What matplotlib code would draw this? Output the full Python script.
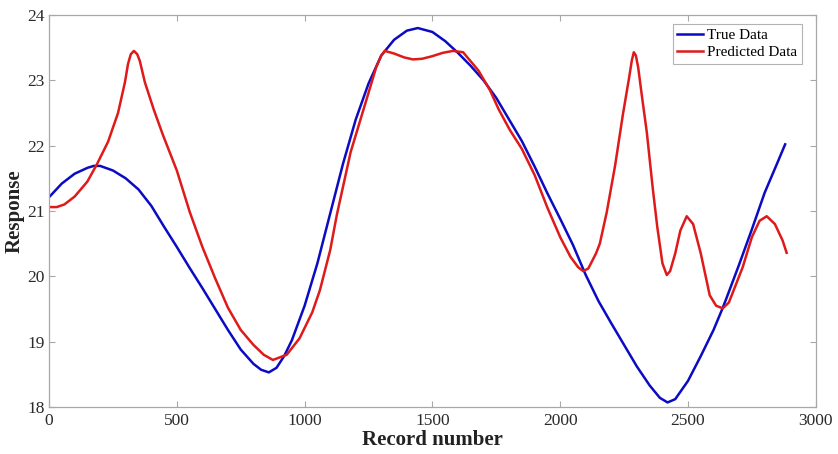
import matplotlib
matplotlib.use("Agg")
import matplotlib.pyplot as plt

# ---- data ----
true_x = [0, 50, 100, 150, 175, 200, 250, 300, 350, 400, 450, 500, 550, 600, 650,
          700, 750, 800, 830, 860, 890, 920, 950, 1000, 1050, 1100, 1150, 1200,
          1250, 1300, 1350, 1400, 1443, 1500, 1550, 1600, 1650, 1700, 1750, 1800,
          1850, 1900, 1950, 2000, 2050, 2100, 2150, 2200, 2250, 2300, 2350, 2390,
          2420, 2450, 2500, 2550, 2600, 2632, 2650, 2700, 2750, 2800, 2850, 2880]
true_y = [21.21, 21.42, 21.57, 21.66, 21.69, 21.69, 21.62, 21.50, 21.33, 21.08,
          20.76, 20.45, 20.13, 19.82, 19.50, 19.18, 18.88, 18.66, 18.57, 18.53,
          18.60, 18.78, 19.02, 19.55, 20.20, 20.96, 21.72, 22.40, 22.95, 23.38,
          23.62, 23.76, 23.80, 23.74, 23.60, 23.42, 23.22, 23.00, 22.73, 22.40,
          22.07, 21.68, 21.27, 20.88, 20.48, 20.02, 19.62, 19.28, 18.95, 18.62,
          18.33, 18.14, 18.07, 18.12, 18.40, 18.78, 19.18, 19.48, 19.66, 20.18,
          20.72, 21.28, 21.74, 22.02]

pred_x = [0, 30, 60, 100, 150, 188, 231, 270, 297, 309, 320, 332, 345, 355, 375,
          410, 446, 500, 551, 600, 650, 700, 750, 800, 840, 876, 930, 980, 1030,
          1060, 1100, 1126, 1180, 1244, 1280, 1300, 1314, 1350, 1390, 1424, 1460,
          1500, 1540, 1580, 1620, 1680, 1725, 1760, 1803, 1850, 1900, 1950, 2000,
          2040, 2070, 2090, 2110, 2140, 2155, 2182, 2215, 2245, 2270, 2280, 2288,
          2296, 2305, 2320, 2339, 2362, 2380, 2400, 2417, 2430, 2450, 2470, 2495,
          2520, 2550, 2585, 2610, 2636, 2660, 2690, 2714, 2750, 2780, 2808, 2840,
          2870, 2886]
pred_y = [21.06, 21.06, 21.10, 21.22, 21.45, 21.72, 22.06, 22.50, 22.97, 23.25,
          23.40, 23.45, 23.40, 23.30, 22.97, 22.55, 22.16, 21.62, 20.98, 20.45,
          19.97, 19.52, 19.18, 18.95, 18.80, 18.72, 18.80, 19.05, 19.45, 19.79,
          20.40, 20.94, 21.90, 22.73, 23.20, 23.38, 23.45, 23.41, 23.35, 23.32,
          23.33, 23.37, 23.42, 23.45, 23.43, 23.15, 22.85, 22.55, 22.24, 21.95,
          21.55, 21.05, 20.60, 20.30, 20.14, 20.08, 20.12, 20.35, 20.50, 20.98,
          21.70, 22.47, 23.05, 23.30, 23.43, 23.38, 23.20, 22.75, 22.20, 21.35,
          20.75, 20.20, 20.02, 20.08, 20.35, 20.70, 20.92, 20.80, 20.35, 19.71,
          19.55, 19.51, 19.60, 19.90, 20.14, 20.60, 20.85, 20.92, 20.80, 20.55,
          20.36]

x_ticks = [0, 500, 1000, 1500, 2000, 2500, 3000]
y_ticks = [18, 19, 20, 21, 22, 23, 24]

serif = ["Liberation Serif", "DejaVu Serif"]
plt.rcParams["font.family"] = serif

fig = plt.figure(figsize=(8.38, 4.54), dpi=100)
ax = fig.add_axes([0.0585, 0.1035, 0.915, 0.8635])

ax.plot(true_x, true_y, color="#0b0bc4", lw=1.8, label="True Data",
        solid_joinstyle="round")
ax.plot(pred_x, pred_y, color="#de1a1a", lw=1.8, label="Predicted Data",
        solid_joinstyle="round")

ax.set_xlim(0, 3000)
ax.set_ylim(18, 24)
ax.set_xticks(x_ticks)
ax.set_yticks(y_ticks)

for s in ax.spines.values():
    s.set_color("#a8a8a8")
    s.set_linewidth(0.9)
ax.tick_params(direction="in", length=4, width=0.8, color="#a8a8a8",
               labelsize=12.5, labelcolor="#2a2a2a",
               top=True, right=True)
ax.tick_params(axis="x", pad=4)
ax.tick_params(axis="y", pad=3)

ax.set_xlabel("Record number", fontsize=15, fontweight="bold", color="#222222", labelpad=1)
ax.set_ylabel("Response", fontsize=15, fontweight="bold", color="#222222", labelpad=2)

leg = ax.legend(loc="upper right", bbox_to_anchor=(0.982, 0.977),
                fontsize=11, frameon=True, fancybox=False,
                edgecolor="#a0a0a0", handlelength=1.7, handletextpad=0.25,
                borderpad=0.3, labelspacing=0.2, borderaxespad=0.0)
leg.get_frame().set_linewidth(0.8)

fig.savefig("out.png", dpi=100)
